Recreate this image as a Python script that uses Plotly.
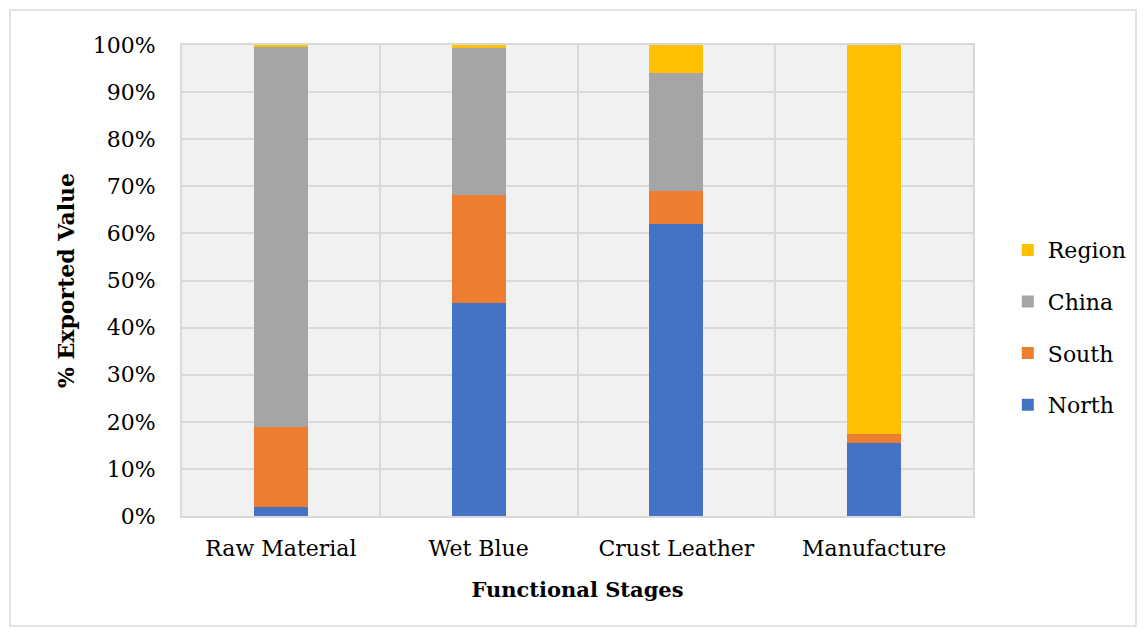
import plotly.graph_objects as go

categories = ["Raw Material", "Wet Blue", "Crust Leather", "Manufacture"]
north = [2.0, 45.2, 62.0, 15.5]
south = [17.0, 23.0, 7.0, 1.9]
china = [80.6, 31.1, 25.0, 0.0]
region = [0.4, 0.7, 6.0, 82.6]
y_ticks = [0, 10, 20, 30, 40, 50, 60, 70, 80, 90, 100]
y_labels = [f"{v}%" for v in y_ticks]

series = [("North", north, "#4472C4"), ("South", south, "#ED7D31"),
          ("China", china, "#A5A5A5"), ("Region", region, "#FFC000")]

FONT = "DejaVu Serif"
fig = go.Figure()
for i, (name, vals, col) in enumerate(series):
    fig.add_trace(go.Bar(x=categories, y=vals, name=name, marker_color=col,
                         marker_line_width=0, legendgroup=name,
                         legendrank=len(series) - i))

W, H = 1146, 636
L, R, T, B = 182, 173, 45, 120
pw, ph = W - L - R, H - T - B

fig.update_layout(
    width=W, height=H, barmode="stack", bargap=0.727,
    margin=dict(l=L, r=R, t=T, b=B, autoexpand=False),
    paper_bgcolor="white", plot_bgcolor="#f1f1f1",
    font=dict(family=FONT, size=22, color="black"),
    legend=dict(traceorder="grouped", x=1.044, y=0.40, yanchor="middle", xanchor="left",
                font=dict(size=22), tracegroupgap=20, itemwidth=30),
    xaxis=dict(tickson="boundaries", showgrid=True, gridcolor="#d9d9d9", gridwidth=2,
               showline=True, linecolor="#d9d9d9", linewidth=2, mirror=True, automargin=False,
               ticks="", ticklabelstandoff=12,
               title=dict(text="<b>Functional Stages</b>", standoff=22, font=dict(size=21))),
    yaxis=dict(range=[0, 100], tickvals=y_ticks, ticktext=y_labels, showgrid=True,
               gridcolor="#d9d9d9", gridwidth=2, showline=True, linecolor="#d9d9d9",
               linewidth=2, mirror=True, ticks="", ticklabelstandoff=20, zeroline=False,
               automargin=False,
               title=dict(text="<b>% Exported Value</b>", standoff=12, font=dict(size=22))),
)
# outer chart border
fig.add_shape(type="rect", xref="paper", yref="paper",
              x0=(10 - L) / pw, x1=(1136 - L) / pw, y0=-(626 - T - ph) / ph, y1=1 + (T - 10) / ph,
              line=dict(color="#d9d9d9", width=1.5), layer="below")
fig.write_html("out.html", config={"displayModeBar": False},
               post_script="document.body.style.margin='0px';")
